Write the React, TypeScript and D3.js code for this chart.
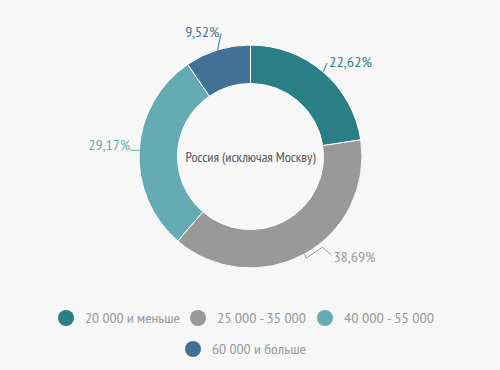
import React from "react";
import * as d3 from "d3";

const categories = ["20 000 и меньше", "25 000 - 35 000", "40 000 - 55 000", "60 000 и больше"];
const values = [22.62, 38.69, 29.17, 9.52];
const labels = ["22,62%", "38,69%", "29,17%", "9,52%"];
const colors = ["#2a7f87", "#999999", "#64abb3", "#437196"];
const centerTitle = "Россия (исключая Москву)";

const W = 500;
const H = 370;
const cx = 250.5;
const cy = 156.5;
const rOuter = 111.5;
const rInner = 73;
const FONT = "'PT Sans Narrow', 'DejaVu Sans Condensed', 'Roboto', sans-serif";

// layout-only: text widths of the condensed original font, label nudges
const labelWidths = [43, 42, 42, 34];
const legendWidths = [95, 89, 90, 94];
const titleWidth = 130;
const labelNudge: [number, number][] = [
  [-2, 4],
  [22, -8],
  [6, 0],
  [5, -1],
];

export default function App() {
  const pie = d3.pie<number>().sort(null).value((d) => d);
  const arcs = pie(values);
  const arcGen = d3.arc<d3.PieArcDatum<number>>().innerRadius(rInner).outerRadius(rOuter);

  const legendRows = [
    [
      { i: 0, x: 66 },
      { i: 1, x: 198 },
      { i: 2, x: 325 },
    ],
    [{ i: 3, x: 193 }],
  ];
  const legendY = [318, 349];

  return (
    <svg width={W} height={H} style={{ position: "absolute", left: 0, top: 0, background: "#f7f7f7" }} fontFamily={FONT}>
      <rect x={0} y={0} width={W} height={H} fill="#f7f7f7" />
      <g transform={`translate(${cx},${cy})`}>
        {arcs.map((a, i) => (
          <path key={i} d={arcGen(a) || ""} fill={colors[i]} stroke="#ffffff" strokeWidth={1} />
        ))}
        {arcs.map((a, i) => {
          const mid = (a.startAngle + a.endAngle) / 2;
          const sx = Math.sin(mid);
          const sy = -Math.cos(mid);
          const p0 = [sx * rOuter, sy * rOuter];
          const p1 = [sx * (rOuter + 12), sy * (rOuter + 12)];
          const right = sx >= 0;
          const lx = p1[0] + labelNudge[i][0];
          const ly = p1[1] + labelNudge[i][1];
          let pts: number[][];
          let tx = lx;
          let ty = ly;
          if (i === 1) {
            pts = [p0, [p0[0] + 2, p0[1] + 4], [p0[0] + 18, p0[1] - 7], [p0[0] + 27, p0[1] + 1]];
            tx = p0[0] + 29;
            ty = p0[1] + 8;
          } else if (i === 2) {
            pts = [p0, [p0[0] - 9, p0[1]]];
            tx = p0[0] - 9;
            ty = p0[1];
          } else {
            pts = [p0, [lx + (right ? -2 : 2), ly - 4]];
          }
          return (
            <g key={"l" + i}>
              <polyline
                points={pts.map((p) => p.join(",")).join(" ")}
                fill="none"
                stroke={colors[i]}
                strokeWidth={1}
              />
              <text
                x={tx}
                y={ty}
                fill={colors[i]}
                fontSize={14}
                textAnchor={right ? "start" : "end"}
                textLength={labelWidths[i]}
                lengthAdjust="spacingAndGlyphs"
              >
                {labels[i]}
              </text>
            </g>
          );
        })}
        <text
          x={0}
          y={5}
          textAnchor="middle"
          fontSize={14}
          fill="#555555"
          textLength={titleWidth}
          lengthAdjust="spacingAndGlyphs"
        >
          {centerTitle}
        </text>
      </g>
      {legendRows.map((row, ri) =>
        row.map((it) => (
          <g key={`lg${it.i}`}>
            <circle cx={it.x} cy={legendY[ri]} r={8} fill={colors[it.i]} />
            <text
              x={it.x + 19}
              y={legendY[ri] + 5}
              fontSize={14}
              fill="#999999"
              textLength={legendWidths[it.i]}
              lengthAdjust="spacingAndGlyphs"
            >
              {categories[it.i]}
            </text>
          </g>
        ))
      )}
    </svg>
  );
}
